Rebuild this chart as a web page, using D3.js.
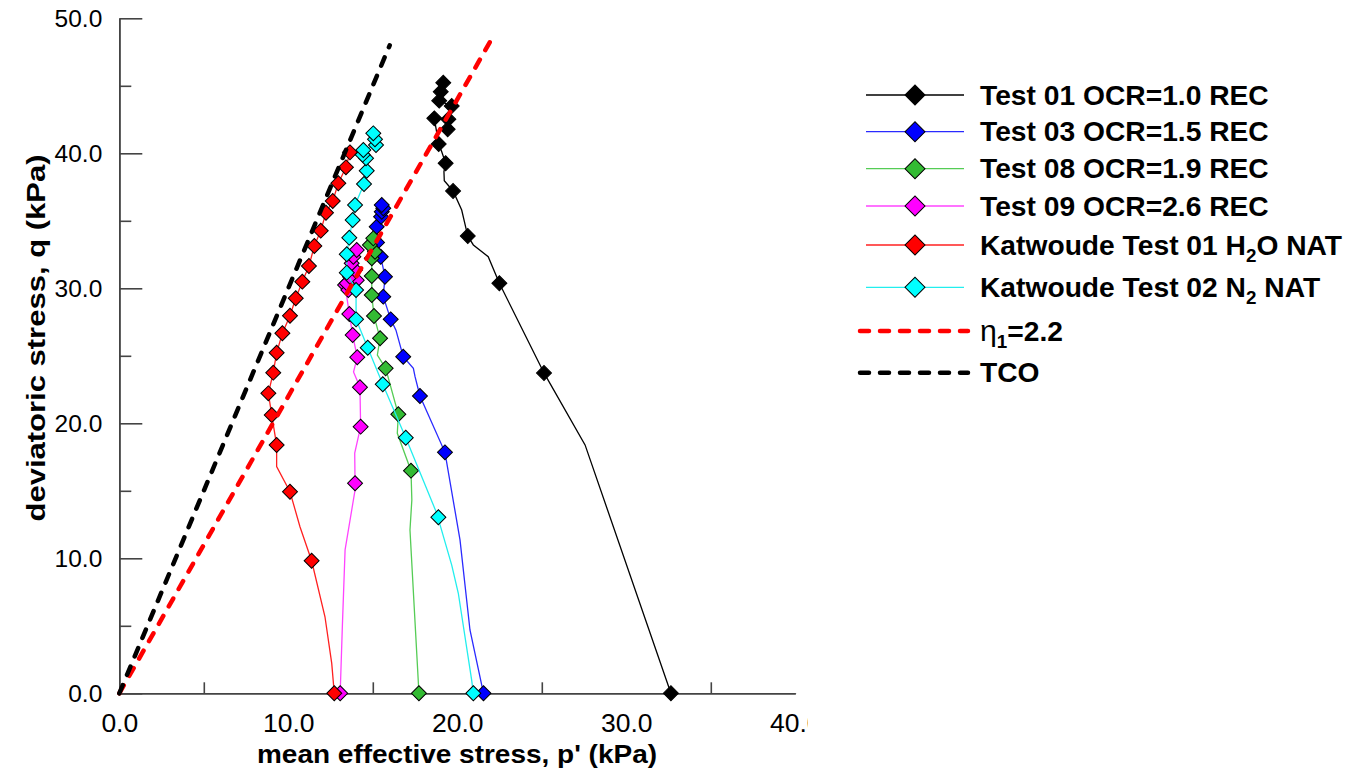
<!DOCTYPE html>
<html>
<head>
<meta charset="utf-8">
<script src="https://cdn.jsdelivr.net/npm/d3@7"></script>
<style>
  body { margin: 0; background: #fff; }
  svg { display: block; }
</style>
</head>
<body>
<svg id="chart" width="1356" height="772"></svg>
<script>
// test paths in p' (kPa), q (kPa) -- line vertices, then the points carrying a marker
var t01Line = [[32.64,0],[27.56,18.4],[25.13,23.73],[22.49,30.37],[21.83,32.34],[20.95,33.21],[20.62,33.87],[20.26,35.8],[19.75,37.21],[19.23,37.97],[19.21,38.64],[19.31,39.26],[19.08,40.12],[18.90,40.69],[18.64,42.59],[19.47,42.52],[19.43,41.78],[19.67,43.50],[18.93,43.90],[19.02,44.56],[19.17,45.23]];
var t01Pts = [[32.64,0],[25.13,23.73],[22.49,30.37],[20.62,33.87],[19.75,37.21],[19.31,39.26],[18.90,40.69],[19.43,41.78],[19.47,42.52],[18.64,42.59],[19.67,43.50],[18.93,43.90],[19.02,44.56],[19.17,45.23]];

var t03Line = [[21.55,0],[20.75,4.69],[20.16,11.36],[19.27,17.85],[17.79,22.02],[17.5,23.45],[17.40,24.07],[16.80,24.93],[16.37,26.9],[16.06,27.70],[15.62,29.38],[15.72,30.86],[15.47,32.34],[15.25,33.4],[15.23,34.56],[15.49,35.30],[15.53,35.67],[15.62,35.93],[15.53,36.17]];
var t03Pts = [[21.55,0],[19.27,17.85],[17.79,22.02],[16.80,24.93],[16.06,27.70],[15.62,29.38],[15.72,30.86],[15.47,32.34],[15.25,33.4],[15.23,34.56],[15.49,35.30],[15.53,35.67],[15.62,35.93],[15.53,36.17]];

var t08Line = [[17.73,0],[17.2,12.1],[17.31,14.32],[17.26,16.49],[16.45,19.26],[16.51,20.67],[15.76,24.07],[15.27,25.06],[15.43,26.30],[15.07,27.95],[14.94,29.50],[14.94,30.91],[14.94,32.22],[15.13,32.71],[14.83,33.21],[15.03,33.70]];
var t08Pts = [[17.73,0],[17.26,16.49],[16.51,20.67],[15.76,24.07],[15.43,26.30],[15.07,27.95],[14.94,29.50],[14.94,30.91],[14.94,32.22],[15.13,32.71],[14.83,33.21],[15.03,33.70]];

var t09Line = [[13.07,0],[13.2,5.0],[13.36,10.62],[13.95,15.06],[13.95,15.56],[13.93,17.8],[14.28,19.75],[14.24,22.67],[13.86,23.8],[14.08,24.89],[13.81,26.54],[13.61,28.10],[13.36,30.24],[13.55,29.87],[14.05,30.6],[13.46,30.37],[13.65,30.86],[13.95,31.36],[13.75,31.85],[13.85,32.34],[14.05,32.84]];
var t09Pts = [[13.07,0],[13.95,15.56],[14.28,19.75],[14.24,22.67],[14.08,24.89],[13.81,26.54],[13.61,28.10],[13.36,30.24],[13.55,29.87],[14.05,30.6],[13.46,30.37],[13.65,30.86],[13.95,31.36],[13.75,31.85],[13.85,32.34],[14.05,32.84]];

var kat01Line = [[12.72,0],[12.57,2.22],[12.17,5.67],[11.38,9.82],[10.69,12.34],[10.10,14.93],[9.31,16.79],[9.31,18.39],[9.02,20.61],[8.82,22.22],[9.11,23.75],[9.31,25.23],[9.65,26.67],[10.10,27.97],[10.44,29.26],[10.83,30.49],[11.22,31.65],[11.54,33.13],[11.92,34.27],[12.23,35.60],[12.63,36.47],[12.96,37.78],[13.41,38.96],[13.65,40.07]];
var kat01Pts = [[12.72,0],[11.38,9.82],[10.10,14.93],[9.31,18.39],[9.02,20.61],[8.82,22.22],[9.11,23.75],[9.31,25.23],[9.65,26.67],[10.10,27.97],[10.44,29.26],[10.83,30.49],[11.22,31.65],[11.54,33.13],[11.92,34.27],[12.23,35.60],[12.63,36.47],[12.96,37.78],[13.41,38.96],[13.65,40.07]];

var kat02Line = [[20.95,0],[20.85,0.98],[20.06,7.41],[19.67,9.5],[18.98,12.47],[18.88,13.04],[16.95,18.93],[15.59,22.89],[14.70,25.60],[14.01,27.70],[14.01,29.87],[13.46,31.16],[13.46,32.52],[13.61,33.75],[13.81,35.06],[13.95,36.17],[14.48,37.73],[14.64,38.71],[14.60,39.63],[14.40,39.9],[14.44,40.24],[15.19,40.61],[15.13,41.04],[15.03,41.48]];
var kat02Pts = [[20.95,0],[18.88,13.04],[16.95,18.93],[15.59,22.89],[14.70,25.60],[14.01,27.70],[14.01,29.87],[13.46,31.16],[13.46,32.52],[13.61,33.75],[13.81,35.06],[13.95,36.17],[14.48,37.73],[14.64,38.71],[14.60,39.63],[14.40,39.9],[14.44,40.24],[15.19,40.61],[15.13,41.04],[15.03,41.48]];

// reference lines q = slope * p'
var etaLine = [[0,0],[22.0,48.4]];
var tcoLine = [[0,0],[16.0,48.0]];

var xMajor = [0,10,20,30,40];
var xMinor = [5,15,25,35];
var yMajor = [0,10,20,30,40,50];
var yMinor = [5,15,25,35,45];

var svg = d3.select("#chart");
var x = d3.scaleLinear().domain([0,40]).range([119.3,795.3]);
var y = d3.scaleLinear().domain([0,50]).range([693.3,18.3]);
var fmt = d3.format(".1f");

// axes, ticks pointing into the plot
var axisCol = "#444";
var gy = svg.append("g").attr("transform","translate(119.3,0)");
gy.call(d3.axisLeft(y).tickValues(yMajor).tickSizeInner(-23).tickSizeOuter(0).tickPadding(17).tickFormat(fmt));
var gy2 = svg.append("g").attr("transform","translate(119.3,0)");
gy2.call(d3.axisLeft(y).tickValues(yMinor).tickSizeInner(-12).tickSizeOuter(0).tickFormat(""));
svg.append("clipPath").attr("id","xclip").append("rect")
  .attr("x",0).attr("y",0).attr("width",808).attr("height",772);
var gx = svg.append("g").attr("transform","translate(0,693.3)").attr("clip-path","url(#xclip)");
gx.call(d3.axisBottom(x).tickValues(xMajor).tickSizeInner(-22).tickSizeOuter(0).tickPadding(20).tickFormat(fmt));
var gx2 = svg.append("g").attr("transform","translate(0,693.3)");
gx2.call(d3.axisBottom(x).tickValues(xMinor).tickSizeInner(-11).tickSizeOuter(0).tickFormat(""));

[gy,gy2,gx,gx2].forEach(function(g){
  g.selectAll("path,line").attr("stroke",axisCol).attr("stroke-width",1.6);
  g.selectAll("text").attr("fill","#000").attr("font-family","Liberation Sans, Arial, sans-serif");
});
gy.selectAll("text").attr("font-size",24.5);
gx.selectAll("text").attr("font-size",26.5);

// axis titles
svg.append("text")
  .attr("x",457).attr("y",763)
  .attr("text-anchor","middle")
  .attr("font-family","Liberation Sans, Arial, sans-serif")
  .attr("font-weight","bold").attr("font-size",26)
  .attr("textLength",400).attr("lengthAdjust","spacingAndGlyphs")
  .text("mean effective stress, p' (kPa)");
svg.append("text")
  .attr("transform","translate(45,338) rotate(-90)")
  .attr("text-anchor","middle")
  .attr("font-family","Liberation Sans Narrow, Arial Narrow, Liberation Sans, sans-serif")
  .attr("font-weight","bold").attr("font-size",26)
  .attr("textLength",367).attr("lengthAdjust","spacingAndGlyphs")
  .text("deviatoric stress, q (kPa)");

var series = [
  {line: t01Line, pts: t01Pts, stroke: "#000000", fill: "#000000"},
  {line: t03Line, pts: t03Pts, stroke: "#2a2aff", fill: "#0000ff"},
  {line: t08Line, pts: t08Pts, stroke: "#55cc55", fill: "#33bb33"},
  {line: t09Line, pts: t09Pts, stroke: "#ff44ff", fill: "#ff00ff"},
  {line: kat01Line, pts: kat01Pts, stroke: "#ff2020", fill: "#ff0000"},
  {line: kat02Line, pts: kat02Pts, stroke: "#22eeee", fill: "#00ffff"}
];

var line = d3.line().x(function(d){ return x(d[0]); }).y(function(d){ return y(d[1]); });
var diamond = d3.symbol().type(d3.symbolSquare).size(112);
var diamondBig = d3.symbol().type(d3.symbolSquare).size(200);

series.forEach(function(s){
  var g = svg.append("g");
  g.append("path").datum(s.line)
    .attr("d",line)
    .attr("fill","none")
    .attr("stroke",s.stroke)
    .attr("stroke-width",1.3);
  g.selectAll("path.mk").data(s.pts).enter().append("path")
    .attr("class","mk")
    .attr("d",diamond)
    .attr("transform",function(d){ return "translate(" + x(d[0]) + "," + y(d[1]) + ") rotate(45)"; })
    .attr("fill",s.fill)
    .attr("stroke","#000")
    .attr("stroke-width",1);
});

// dashed reference lines
var dash = "9,11";
svg.append("path").datum(etaLine).attr("d",line)
  .attr("fill","none").attr("stroke","#ff0000").attr("stroke-width",4.5)
  .attr("stroke-dasharray",dash).attr("stroke-linecap","round");
svg.append("path").datum(tcoLine).attr("d",line)
  .attr("fill","none").attr("stroke","#000000").attr("stroke-width",4.5)
  .attr("stroke-dasharray",dash).attr("stroke-linecap","round");

// legend
var legendRows = [95,131.7,168.7,206,245,287.3];
var lg = svg.append("g")
  .attr("font-family","Liberation Sans, Arial, sans-serif")
  .attr("font-weight","bold").attr("font-size",27);

series.forEach(function(s,i){
  var ry = legendRows[i];
  lg.append("line").attr("x1",866).attr("x2",964).attr("y1",ry).attr("y2",ry)
    .attr("stroke",s.stroke).attr("stroke-width",1.3);
  lg.append("path").attr("d",diamondBig)
    .attr("transform","translate(915," + ry + ") rotate(45)")
    .attr("fill",s.fill).attr("stroke","#000").attr("stroke-width",1);
});

function legText(ry, parts) {
  var t = lg.append("text")
    .attr("transform","translate(980," + (ry + 9.5) + ") scale(1.045,1)");
  parts.forEach(function(p){
    var ts = t.append("tspan").text(p[0]);
    if (p[1] === "sub") ts.attr("font-size",18).attr("dy",7);
    if (p[1] === "up") ts.attr("dy",-7);
    if (p[1] === "normal") ts.attr("font-weight","normal").attr("font-size",29);
  });
  return t;
}
legText(legendRows[0], [["Test 01 OCR=1.0 REC"]]);
legText(legendRows[1], [["Test 03 OCR=1.5 REC"]]);
legText(legendRows[2], [["Test 08 OCR=1.9 REC"]]);
legText(legendRows[3], [["Test 09 OCR=2.6 REC"]]);
legText(legendRows[4], [["Katwoude Test 01 H"],["2","sub"],["O NAT","up"]]);
legText(legendRows[5], [["Katwoude Test 02 N"],["2","sub"],[" NAT","up"]]);

lg.append("line").attr("x1",860).attr("x2",968).attr("y1",331).attr("y2",331)
  .attr("stroke","#ff0000").attr("stroke-width",4.5)
  .attr("stroke-dasharray",dash).attr("stroke-linecap","round");
lg.append("line").attr("x1",860).attr("x2",968).attr("y1",372.7).attr("y2",372.7)
  .attr("stroke","#000").attr("stroke-width",4.5)
  .attr("stroke-dasharray",dash).attr("stroke-linecap","round");
legText(331, [["\u03b7","normal"],["1","sub"],["=2.2","up"]]);
legText(372.7, [["TCO"]]);
</script>
</body>
</html>
